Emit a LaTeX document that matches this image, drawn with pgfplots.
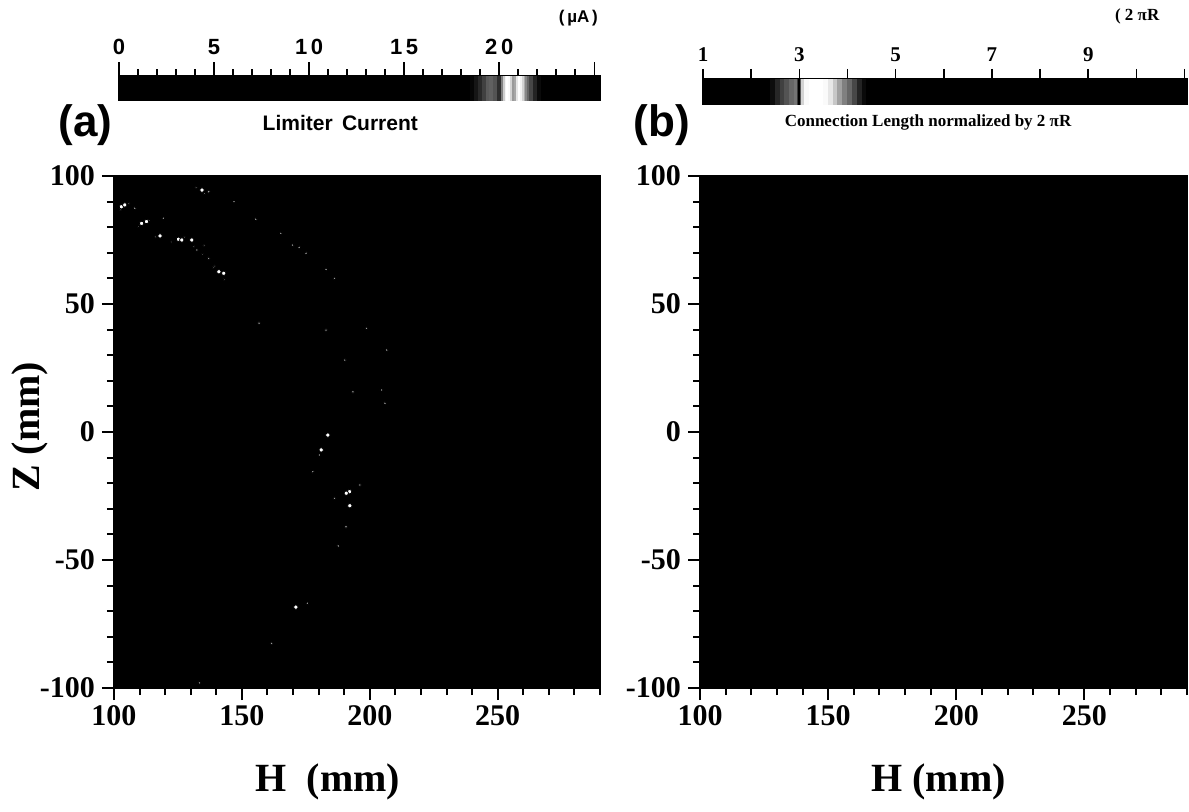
\documentclass[border=0pt]{standalone}
\usepackage{fontspec}
\setmainfont{Liberation Serif}
\newfontfamily\sansf{Liberation Sans}
\usepackage{pgfplots}
\pgfplotsset{compat=1.18}

% grey level of the two colour bars (0 black, 1 white)
\pgfplotstableread{
x g y
0 0 0
18.5 0 0
18.7 0.05 0
18.9 0.12 0
19.1 0.2 0
19.3 0.3 0
19.5 0.4 0
19.7 0.35 0
19.9 0.3 0
20.0 0.05 0
20.1 0.3 0
20.2 0.7 0
20.3 0.9 0
20.4 1 0
20.5 1 0
20.6 0.95 0
20.7 0.7 0
20.8 0.5 0
20.9 0.8 0
21.0 1 0
21.1 1 0
21.2 0.9 0
21.3 0.75 0
21.4 0.6 0
21.5 0.45 0
21.6 0.35 0
21.8 0.2 0
22.0 0.08 0
22.2 0 0
25.3 0 0

0 0 1
18.5 0 1
18.7 0.05 1
18.9 0.12 1
19.1 0.2 1
19.3 0.3 1
19.5 0.4 1
19.7 0.35 1
19.9 0.3 1
20.0 0.05 1
20.1 0.3 1
20.2 0.7 1
20.3 0.9 1
20.4 1 1
20.5 1 1
20.6 0.95 1
20.7 0.7 1
20.8 0.5 1
20.9 0.8 1
21.0 1 1
21.1 1 1
21.2 0.9 1
21.3 0.75 1
21.4 0.6 1
21.5 0.45 1
21.6 0.35 1
21.8 0.2 1
22.0 0.08 1
22.2 0 1
25.3 0 1
}\barA

\pgfplotstableread{
x g y
1 0 0
2.4 0 0
2.5 0.1 0
2.6 0.2 0
2.7 0.3 0
2.8 0.35 0
2.9 0.45 0
2.96 0.45 0
2.98 0 0
3.02 0 0
3.04 0.7 0
3.1 0.95 0
3.2 1 0
3.5 1 0
3.6 0.95 0
3.7 0.85 0
3.8 0.7 0
3.9 0.55 0
4.0 0.45 0
4.1 0.35 0
4.2 0.2 0
4.3 0.08 0
4.4 0 0
11.05 0 0

1 0 1
2.4 0 1
2.5 0.1 1
2.6 0.2 1
2.7 0.3 1
2.8 0.35 1
2.9 0.45 1
2.96 0.45 1
2.98 0 1
3.02 0 1
3.04 0.7 1
3.1 0.95 1
3.2 1 1
3.5 1 1
3.6 0.95 1
3.7 0.85 1
3.8 0.7 1
3.9 0.55 1
4.0 0.45 1
4.1 0.35 1
4.2 0.2 1
4.3 0.08 1
4.4 0 1
11.05 0 1
}\barB

\pgfplotsset{
  panel/.style={
    scale only axis, anchor=south west, width=243pt, height=256pt,
    xmin=100, xmax=290, ymin=-100, ymax=100,
    xtick={100,150,200,250}, xticklabels={100,150,200,250},
    ytick={-100,-50,0,50,100}, yticklabels={-100,-50,0,50,100},
    minor xtick={110,120,...,290}, minor ytick={-90,-80,...,90},
    tick pos=left, tick align=outside,
    major tick length=6pt, minor tick length=3.5pt,
    every tick/.style={black, line width=1pt},
    axis line style={black, line width=0.8pt},
    tick label style={font=\fontsize{15}{15}\selectfont\bfseries},
    xticklabel style={yshift=1pt},
    label style={font=\fontsize{20}{20}\selectfont\bfseries},
  },
  cbar/.style={
    scale only axis, anchor=south west, ymin=0, ymax=1, ytick=\empty,
    xtick pos=upper, xticklabel pos=upper, tick align=outside, clip=false,
    every tick/.style={black, line width=0.8pt},
    axis line style={black, line width=0.6pt},
    colormap/blackwhite, point meta min=0, point meta max=1,
  },
}

\begin{document}
\begin{tikzpicture}[x=1pt,y=1pt]
\path[use as bounding box] (0,0) rectangle (594.5,405.5);

% ---- colour bar (a)
\begin{axis}[cbar, at={(59.5pt,355.5pt)}, width=240.5pt, height=12pt,
  xmin=0, xmax=25.3, xtick={0,5,...,25},
  xticklabels={0,5,1\,0,1\,5,2\,0,},
  minor x tick num=4, major tick length=7pt, minor tick length=3.5pt,
  xticklabel style={font=\sansf\fontsize{11}{11}\selectfont\bfseries}]
\addplot[surf, shader=flat mean, mesh/rows=2, point meta=explicit]
  table[x=x, y=y, meta=g] {\barA};
\node[font=\sansf\fontsize{10.5}{11}\selectfont\bfseries]
  at (axis description cs:0.46,-0.95) {Limiter\, Current};
\node[font=\sansf\fontsize{22}{22}\selectfont\bfseries]
  at (axis description cs:-0.07,-1.05) {(a)};
\node[font=\sansf\fontsize{8.5}{8.5}\selectfont\bfseries]
  at (axis description cs:0.955,3.4) {(\,µA\,)};
\end{axis}

% ---- colour bar (b)
\begin{axis}[cbar, at={(351.5pt,353.5pt)}, width=242pt, height=12.5pt,
  xmin=1, xmax=11.05, xtick={1,...,11}, xticklabels={1,,3,,5,,7,,9,,},
  major tick length=5pt,
  xticklabel style={font=\fontsize{10.5}{10.5}\selectfont\bfseries}]
\addplot[surf, shader=flat mean, mesh/rows=2, point meta=explicit]
  table[x=x, y=y, meta=g] {\barB};
\node[font=\fontsize{8.5}{9}\selectfont\bfseries]
  at (axis description cs:0.465,-0.72) {Connection Length normalized by 2 πR};
\node[font=\sansf\fontsize{22}{22}\selectfont\bfseries]
  at (axis description cs:-0.085,-0.85) {(b)};
\node[font=\fontsize{8.5}{9}\selectfont\bfseries]
  at (axis description cs:0.897,3.52) {( 2 πR};
\end{axis}

% ---- map (a): limiter current on the H-Z plane
\begin{axis}[panel, at={(57pt,61.5pt)},
  xlabel={H\ \ (mm)}, ylabel={Z (mm)},
  xlabel style={at={(axis description cs:0.44,-0.184)}, anchor=center},
  ylabel style={at={(axis description cs:-0.173,0.51)}, anchor=center}]
\addplot[draw=none, fill=black] coordinates
  {(100,-100) (290,-100) (290,100) (100,100)} -- cycle;
% faint spots
\addplot[only marks, mark=*, mark size=0.6pt, draw=none, fill=gray!60]
  coordinates {
  (102.5,86.8) (105.8,89.3) (109.6,80.2) (113.8,82.6) (116.3,76.2)
  (122.6,74.2) (127.5,76.1) (131.2,72.5) (134.6,69.4) (135.2,72.8)
  (138.8,64.3) (143.1,59.6) (132.1,95.6) (135.4,93.1) (139.4,64.8)};
\addplot[only marks, mark=*, mark size=0.8pt, draw=none, fill=gray!75]
  coordinates {
  (108.1,87.4) (119.3,83.5) (132.4,71.1) (137,67.8) (137,93.9) (146.9,90)
  (155.4,83.1) (165.2,77.6) (169.8,73) (172.4,72.1) (175.1,69.8) (182.9,63.5)
  (186.2,60) (156.7,42.5) (182.9,39.8) (198.7,40.5) (206.6,32) (190.2,28.1)
  (204.6,16.4) (205.9,11.2) (193.4,15.7) (180.3,-9) (177.7,-15.5)
  (196.1,-20.7) (186.2,-25.9) (192.1,-29.2) (190.7,-37) (187.7,-44.5)
  (175.6,-66.9) (161.6,-82.6) (133.4,-98)};
% bright spots
\addplot[only marks, mark=*, mark size=1.1pt, draw=none, fill=white]
  coordinates {
  (102.9,88.0) (104.2,88.7) (110.8,81.5) (112.7,82.2) (118,76.6)
  (125.2,75.3) (126.5,75) (130.4,75) (141,62.6) (142.9,62) (134.4,94.5)
  (183.6,-1.2) (181,-7) (192.1,-23.3) (190.8,-23.9) (192.2,-28.8)
  (171.1,-68.4)};
\end{axis}

% ---- map (b): connection length, uniformly dark
\begin{axis}[panel, at={(350pt,61.5pt)}, width=243.5pt,
  xlabel={H (mm)},
  xlabel style={at={(axis description cs:0.49,-0.184)}, anchor=center}]
\addplot[draw=none, fill=black] coordinates
  {(100,-100) (290,-100) (290,100) (100,100)} -- cycle;
\end{axis}
\end{tikzpicture}
\end{document}
